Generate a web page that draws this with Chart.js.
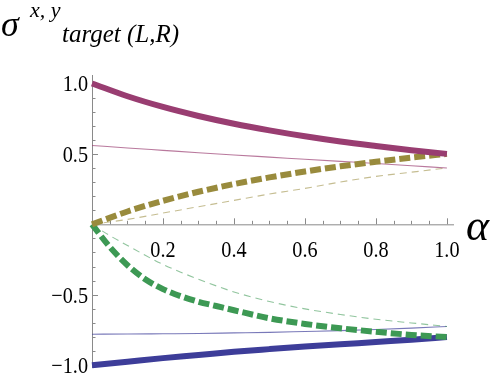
<!DOCTYPE html>
<html>
<head>
<meta charset="utf-8">
<script src="https://cdn.jsdelivr.net/npm/chart.js@4.4.0/dist/chart.umd.min.js"></script>
<style>
  html, body { margin: 0; padding: 0; background: #fff; }
  #wrap { width: 491px; height: 382px; position: relative; }
  .preload { position: absolute; left: -999px; top: 0; font-family: "Liberation Serif", "Times New Roman", "DejaVu Serif", serif; }
</style>
</head>
<body>
<span class="preload">0.5 <i>&#945;&#963; target</i></span>
<div id="wrap"><canvas id="c" width="491" height="382"></canvas></div>
<script>
// alpha grid for the smooth curves
const alpha = [0, 0.1, 0.2, 0.3, 0.4, 0.5, 0.6, 0.7, 0.8, 0.9, 1.0];
// finer grid for the steep green curves
const alphaFine = [0, 0.05, 0.1, 0.15, 0.2, 0.25, 0.3, 0.35, 0.4, 0.5, 0.6, 0.7, 0.8, 0.9, 1.0];

const purpleThick = [1.0, 0.909, 0.833, 0.769, 0.714, 0.667, 0.625, 0.588, 0.556, 0.526, 0.50];
const purpleThin  = [0.56, 0.542, 0.525, 0.508, 0.492, 0.477, 0.462, 0.447, 0.432, 0.416, 0.40];
const oliveThick  = [0, 0.091, 0.167, 0.231, 0.286, 0.333, 0.375, 0.412, 0.444, 0.474, 0.50];
const oliveThin   = [0, 0.035, 0.08, 0.125, 0.17, 0.215, 0.255, 0.30, 0.34, 0.37, 0.40];
const greenThick  = [0, -0.16, -0.29, -0.39, -0.46, -0.51, -0.55, -0.58, -0.61, -0.667, -0.707, -0.738, -0.763, -0.785, -0.80];
const greenThin   = [0, -0.08, -0.15, -0.22, -0.285, -0.34, -0.39, -0.437, -0.48, -0.548, -0.60, -0.64, -0.674, -0.70, -0.725];
const blueThin    = [-0.78, -0.779, -0.777, -0.775, -0.771, -0.767, -0.761, -0.755, -0.747, -0.737, -0.725];
const blueThick   = [-1.0, -0.975, -0.95, -0.928, -0.905, -0.886, -0.868, -0.852, -0.835, -0.819, -0.80];

const xTickLabels = ['0.2', '0.4', '0.6', '0.8', '1.0'];
const yTickLabels = ['\u22121.0', '\u22120.5', '0.5', '1.0'];
const xTickValues = [0.2, 0.4, 0.6, 0.8, 1.0];
const yTickValues = [-1.0, -0.5, 0.5, 1.0];

const colors = {
    purple: '#993d71',
    olive: '#998b3d',
    green: '#3d9954',
    blue: '#3d3d99'
};

const SERIF = '"Liberation Serif", "Times New Roman", Times, "DejaVu Serif", serif';

function pts ( xs, ys )
{
    return xs.map( ( x, i ) => ( { x, y: ys[ i ] } ) );
}

function series ( xs, ys, color, thick, dashed, alphaHex )
{
    return {
        data: pts( xs, ys ),
        borderColor: thick ? color : color + ( alphaHex || 'b0' ),
        borderWidth: thick ? 6 : 1.1,
        borderDash: dashed ? ( thick ? [ 11, 4 ] : [ 7, 5 ] ) : [],
        borderCapStyle: 'butt',
        pointRadius: 0,
        cubicInterpolationMode: 'monotone',
        clip: false,
        fill: false
    };
}

const axisPlugin = {
    id: 'mma-axes',
    beforeDatasetsDraw ( chart )
    {
        const { ctx } = chart;
        const xs = chart.scales.x, ys = chart.scales.y;
        const x0 = xs.getPixelForValue( 0 ), y0 = ys.getPixelForValue( 0 );
        ctx.save();
        ctx.strokeStyle = '#8a8a8a';
        ctx.lineWidth = 1;
        ctx.beginPath();
        ctx.moveTo( x0, y0 + 0.5 );
        ctx.lineTo( xs.getPixelForValue( 1.02 ), y0 + 0.5 );
        ctx.moveTo( x0 + 0.5, ys.getPixelForValue( 1.06 ) );
        ctx.lineTo( x0 + 0.5, ys.getPixelForValue( -1.02 ) );
        // x ticks, minor every 0.05, major every 0.2
        for ( let i = 1; i <= 20; i++ )
        {
            const px = Math.round( xs.getPixelForValue( i * 0.05 ) ) + 0.5;
            const len = i % 4 === 0 ? 6 : 3.5;
            ctx.moveTo( px, y0 );
            ctx.lineTo( px, y0 - len );
        }
        // y ticks, minor every 0.1, major every 0.5
        for ( let i = -10; i <= 10; i++ )
        {
            if ( i === 0 ) continue;
            const py = Math.round( ys.getPixelForValue( i * 0.1 ) ) + 0.5;
            const len = i % 5 === 0 ? 6 : 3.5;
            ctx.moveTo( x0, py );
            ctx.lineTo( x0 + len, py );
        }
        ctx.stroke();
        ctx.restore();
    },
    afterDraw ( chart )
    {
        const { ctx } = chart;
        const xs = chart.scales.x, ys = chart.scales.y;
        const x0 = xs.getPixelForValue( 0 ), y0 = ys.getPixelForValue( 0 );
        ctx.save();
        ctx.fillStyle = '#000';
        ctx.font = '23px ' + SERIF;
        ctx.textBaseline = 'alphabetic';

        xTickValues.forEach( ( v, i ) =>
        {
            ctx.save();
            ctx.translate( xs.getPixelForValue( v ), y0 + 33 );
            ctx.scale( 0.88, 1 );
            ctx.textAlign = 'center';
            ctx.fillText( xTickLabels[ i ], 0, 0 );
            ctx.restore();
        } );
        yTickValues.forEach( ( v, i ) =>
        {
            ctx.save();
            ctx.translate( x0 - 4, ys.getPixelForValue( v ) + 8 );
            ctx.scale( 0.88, 1 );
            ctx.textAlign = 'right';
            ctx.fillText( yTickLabels[ i ], 0, 0 );
            ctx.restore();
        } );

        // axis titles
        ctx.textAlign = 'left';
        ctx.font = 'italic 44px ' + SERIF;
        ctx.fillText( '\u03b1', 466, 240 );

        ctx.font = 'italic 36px ' + SERIF;
        ctx.fillText( '\u03c3', 1, 36 );
        ctx.font = 'italic 22px ' + SERIF;
        ctx.fillText( 'x, y', 30, 17 );
        ctx.font = 'italic 25px ' + SERIF;
        ctx.fillText( 'target (L,R)', 62, 42 );
        ctx.restore();
    }
};

function draw ()
{
    new Chart( document.getElementById( 'c' ), {
        type: 'line',
        data: {
            datasets: [
                series( alpha, purpleThick, colors.purple, true, false ),
                series( alpha, oliveThick, colors.olive, true, true ),
                series( alphaFine, greenThick, colors.green, true, true ),
                series( alpha, blueThick, colors.blue, true, false ),
                series( alpha, purpleThin, colors.purple, false, false ),
                series( alpha, oliveThin, colors.olive, false, true, '90' ),
                series( alphaFine, greenThin, colors.green, false, true, '90' ),
                series( alpha, blueThin, colors.blue, false, false )
            ]
        },
        options: {
            responsive: false,
            animation: false,
            layout: { padding: { left: 92, right: 37, top: 75, bottom: 14 } },
            plugins: {
                legend: { display: false },
                tooltip: { enabled: false }
            },
            scales: {
                x: { type: 'linear', min: 0, max: 1.02, display: false },
                y: { type: 'linear', min: -1.02, max: 1.06, display: false }
            }
        },
        plugins: [ axisPlugin ]
    } );
}

Promise.all( [
    document.fonts.load( '23px "Liberation Serif"' ),
    document.fonts.load( 'italic 23px "Liberation Serif"' )
] ).catch( () => null ).then( draw );
</script>
</body>
</html>
